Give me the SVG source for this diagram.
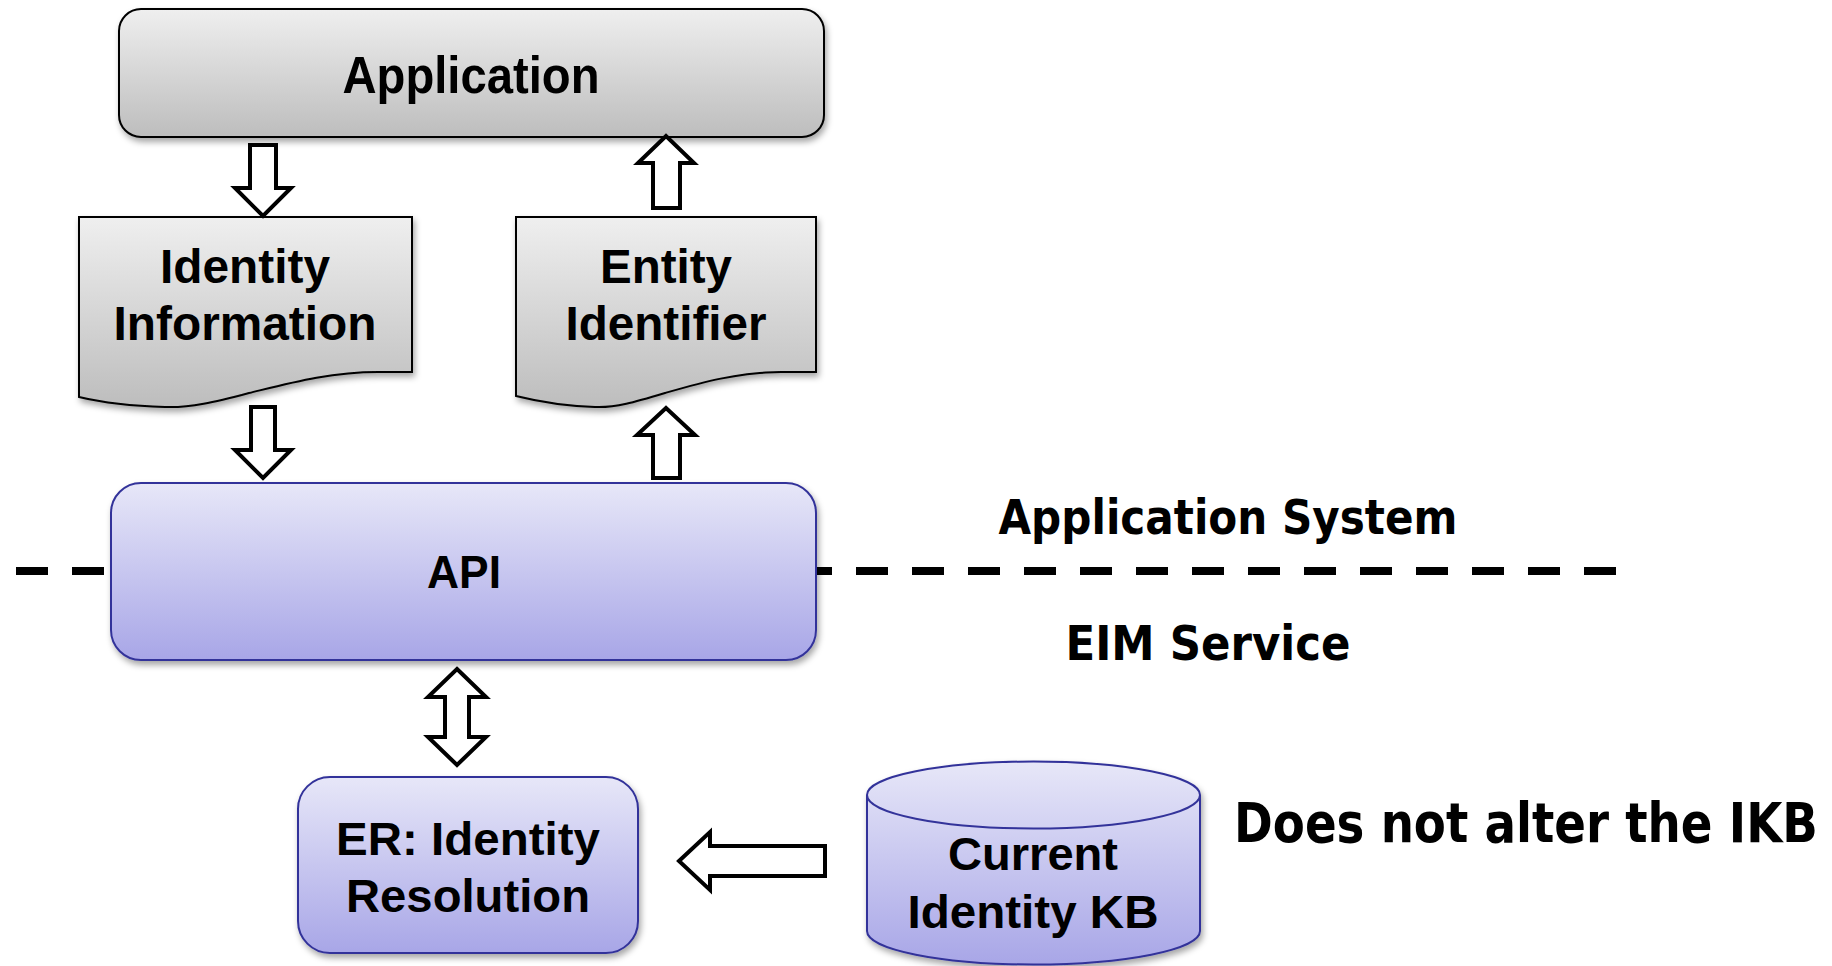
<svg xmlns="http://www.w3.org/2000/svg" width="1832" height="966" viewBox="0 0 1832 966">
<style>
.lbl{font-family:"Liberation Sans",Arial,sans-serif;font-weight:bold;fill:#000;text-anchor:middle}
.note{font-family:"DejaVu Sans",Verdana,sans-serif;font-weight:bold;fill:#000;text-anchor:middle}
.gray{fill:url(#gGray);stroke:#000;stroke-width:2}
.blue{fill:url(#gBlue);stroke:#33339a;stroke-width:2}
.arr{fill:#fff;stroke:#000;stroke-width:4;stroke-linejoin:miter}
</style>
<defs>
<linearGradient id="gGray" x1="0" y1="0" x2="0" y2="1">
<stop offset="0" stop-color="#efefef"/><stop offset="1" stop-color="#bdbdbd"/>
</linearGradient>
<linearGradient id="gBlue" x1="0" y1="0" x2="0" y2="1">
<stop offset="0" stop-color="#e7e7f8"/><stop offset="1" stop-color="#a8a6e7"/>
</linearGradient>
<filter id="sh" x="-10%" y="-10%" width="120%" height="130%">
<feDropShadow dx="2" dy="4" stdDeviation="3" flood-color="#000" flood-opacity="0.35"/>
</filter>
</defs>
<g id="divider">
<line x1="16" y1="571" x2="1616" y2="571" stroke="#000" stroke-width="8" stroke-dasharray="32 24"/>
</g>
<g id="application">
<rect x="119" y="9" width="705" height="128" rx="22" class="gray" filter="url(#sh)"/>
<text x="471" y="93" class="lbl" font-size="52" textLength="257" lengthAdjust="spacingAndGlyphs">Application</text>
</g>
<g id="identity-information">
<path d="M79,217 H412 V372 H378 C330,372 290,383 249,393 C215,402 190,408 165,407 C130,406 100,402 79,397 Z" class="gray" filter="url(#sh)" stroke-width="1.5"/>
<text x="245" y="283" class="lbl" font-size="48" textLength="170" lengthAdjust="spacingAndGlyphs">Identity</text>
<text x="245" y="340" class="lbl" font-size="48" textLength="263" lengthAdjust="spacingAndGlyphs">Information</text>
</g>
<g id="entity-identifier">
<path d="M516,217 H816 V372 H781 C738,372 700,383 665,393 C635,402 615,408 595,407 C565,406 540,402 516,396 Z" class="gray" filter="url(#sh)" stroke-width="1.5"/>
<text x="666" y="283" class="lbl" font-size="48" textLength="132" lengthAdjust="spacingAndGlyphs">Entity</text>
<text x="666" y="340" class="lbl" font-size="48" textLength="201" lengthAdjust="spacingAndGlyphs">Identifier</text>
</g>
<g id="api">
<rect x="111" y="483" width="705" height="177" rx="30" class="blue" filter="url(#sh)"/>
<text x="464" y="588" class="lbl" font-size="46" textLength="74" lengthAdjust="spacingAndGlyphs">API</text>
</g>
<g id="er">
<rect x="298" y="777" width="340" height="176" rx="32" class="blue" filter="url(#sh)"/>
<text x="468" y="855" class="lbl" font-size="47" textLength="264" lengthAdjust="spacingAndGlyphs">ER: Identity</text>
<text x="468" y="912" class="lbl" font-size="47" textLength="244" lengthAdjust="spacingAndGlyphs">Resolution</text>
</g>
<g id="identity-kb">
<path d="M867,795 V931 A166.5,33.5 0 0 0 1200,931 V795 A166.5,33.5 0 0 0 867,795 Z" class="blue" filter="url(#sh)"/>
<path d="M867,795 A166.5,33.5 0 0 0 1200,795" fill="none" stroke="#33339a" stroke-width="2"/>
<text x="1033" y="870" class="lbl" font-size="46" textLength="170" lengthAdjust="spacingAndGlyphs">Current</text>
<text x="1033" y="928" class="lbl" font-size="46" textLength="251" lengthAdjust="spacingAndGlyphs">Identity KB</text>
</g>
<g id="labels">
<text x="1228" y="534" class="note" font-size="48" textLength="459" lengthAdjust="spacingAndGlyphs">Application System</text>
<text x="1208" y="660" class="note" font-size="48" textLength="285" lengthAdjust="spacingAndGlyphs">EIM Service</text>
<text transform="translate(1526,842) scale(0.834,1)" x="0" y="0" class="note" font-size="56">Does not alter the IKB</text>
</g>
<g id="connectors">
<path class="arr" d="M250,145 H276 V188 H291 L263,216 L235,188 H250 Z"/>
<path class="arr" d="M653,208 H680 V163 H694 L666,136 L638,163 H653 Z"/>
<path class="arr" d="M251,407 H275 V450 H291 L263,478 L235,450 H251 Z"/>
<path class="arr" d="M653,478 H680 V435 H695 L666,408 L637,435 H653 Z"/>
<path class="arr" d="M457,669 L486,697 H469 V737 H486 L457,765 L428,737 H445 V697 H428 Z"/>
<path class="arr" d="M679,861 L710,832 V846 H825 V876 H710 V890 Z"/>
</g>
</svg>
